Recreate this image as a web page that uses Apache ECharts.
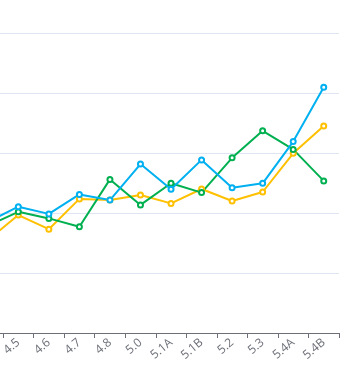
<!DOCTYPE html>
<html><head><meta charset="utf-8">
<script src="https://cdn.jsdelivr.net/npm/echarts@6/dist/echarts.min.js"></script>
<style>html,body{margin:0;padding:0;background:#fff;overflow:hidden;width:362px;height:378px}#c{width:402px;height:378px;margin-left:-40px}</style>
</head><body><div id="c"></div>
<script>
const categories = ['4.4','4.5','4.6','4.7','4.8','5.0','5.1A','5.1B','5.2','5.3','5.4A','5.4B'];
const blueValues   = [37.0, 42.1, 39.7, 46.2, 44.3, 56.3, 47.9, 57.7, 48.4, 49.9, 63.8, 81.9];
const greenValues  = [35.7, 40.4, 38.2, 35.4, 51.2, 42.7, 49.9, 46.8, 58.4, 67.4, 61.2, 50.7];
const yellowValues = [30.9, 39.3, 34.6, 44.7, 44.3, 46.0, 43.2, 48.0, 44.0, 47.0, 59.9, 69.0];
const yTicks = [0, 20, 40, 60, 80, 100];

const chart = echarts.init(document.getElementById('c'));
const mk = (name, data, color) => ({
  name, type: 'line', data,
  symbol: 'emptyCircle', symbolSize: 5,
  lineStyle: { width: 2, color },
  itemStyle: { color, borderWidth: 2 },
  animation: false
});
chart.setOption({
  animation: false,
  grid: { left: 12.5, right: 23, top: 33, bottom: 45, containLabel: false },
  xAxis: {
    type: 'category', data: categories, boundaryGap: true,
    axisLine: { lineStyle: { color: '#6e7079' } },
    axisTick: { show: true, length: 5, lineStyle: { color: '#6e7079' } },
    axisLabel: { rotate: 40, color: '#6e7079', fontSize: 12, margin: 8, fontFamily: 'Open Sans' }
  },
  yAxis: {
    type: 'value', min: yTicks[0], max: yTicks[yTicks.length - 1], interval: 20,
    axisLabel: { show: false },
    splitLine: { lineStyle: { color: '#e0e6f1' } }
  },
  series: [
    mk('C', yellowValues, '#ffc000'),
    mk('B', greenValues, '#00b050'),
    mk('A', blueValues, '#00b0f0')
  ]
});
</script></body></html>
